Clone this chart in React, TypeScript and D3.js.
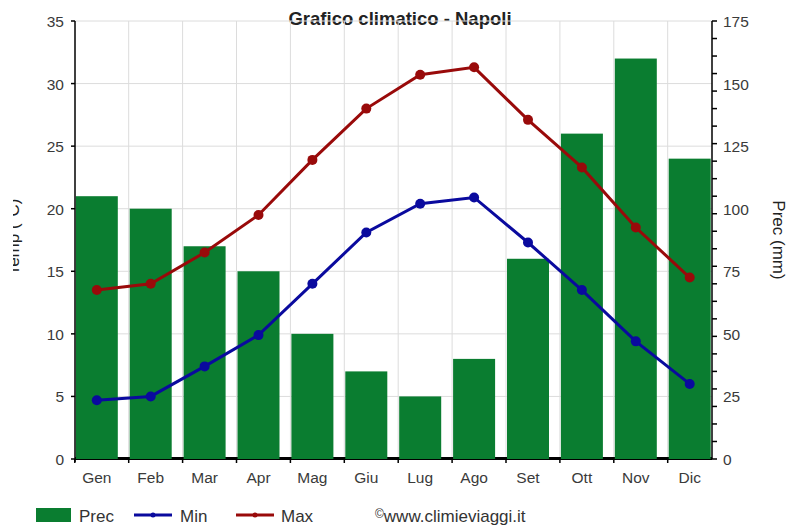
import React from "react";
import * as d3 from "d3";

const months = ["Gen","Feb","Mar","Apr","Mag","Giu","Lug","Ago","Set","Ott","Nov","Dic"];
const prec = [105, 100, 85, 75, 50, 35, 25, 40, 80, 130, 160, 120];
const tMin = [4.7, 5.0, 7.4, 9.9, 14.0, 18.1, 20.4, 20.9, 17.3, 13.5, 9.4, 6.0];
const tMax = [13.5, 14.0, 16.5, 19.5, 23.9, 28.0, 30.7, 31.3, 27.1, 23.3, 18.5, 14.5];
const leftTicks = [0, 5, 10, 15, 20, 25, 30, 35];
const rightLabels = [0, 25, 50, 75, 100, 125, 150, 175];
const rightMinor = d3.range(0, 176, 7);

const W = 792, H = 527;
const plotL = 75, plotR = 712, plotT = 21, plotB = 459;
const font = "'Liberation Sans', Arial, sans-serif";

export default function App() {
  const x = d3.scaleBand<string>().domain(months).range([74.8, 74.8 + 53.9 * 12]).paddingInner(0).paddingOuter(0);
  const yL = d3.scaleLinear().domain([0, 35]).range([plotB, plotT]);
  const yR = d3.scaleLinear().domain([0, 175]).range([plotB, plotT]);
  const barW = 42;
  const cx = (m: string) => (x(m) as number) + 1 + barW / 2;
  const minLine = d3.line<number>().x((_, i) => cx(months[i])).y(d => yL(d))(tMin) as string;
  const maxLine = d3.line<number>().x((_, i) => cx(months[i])).y(d => yL(d))(tMax) as string;
  const tickCol = "#3a3a3a";
  const fs = 15.5;
  return (
    <svg width={W} height={H} style={{ position: "absolute", left: 0, top: 0, background: "#fff" }} fontFamily={font}>
      <defs>
        <clipPath id="lclip"><rect x={13} y={0} width={100} height={H} /></clipPath>
        <clipPath id="pclip"><rect x={plotL} y={0} width={plotR - plotL} height={H} /></clipPath>
      </defs>
      <text x={400} y={25} textAnchor="middle" fontSize={18.5} fontWeight="bold" fill="#222">Grafico climatico - Napoli</text>
      {/* grid */}
      {leftTicks.map(t => (
        <line key={"h" + t} x1={plotL} x2={plotR} y1={yL(t)} y2={yL(t)} stroke="#dcdcdc" strokeWidth={1} />
      ))}
      {months.slice(1).map(m => (
        <line key={"v" + m} x1={x(m) as number} x2={x(m) as number} y1={plotT} y2={plotB} stroke="#dcdcdc" strokeWidth={1} />
      ))}
      {/* thick bottom axis */}
      <line x1={plotL} x2={plotR} y1={plotB - 0.5} y2={plotB - 0.5} stroke="#000" strokeWidth={3} />
      {/* bars */}
      <g clipPath="url(#pclip)">
        {months.map((m, i) => (
          <rect key={"b" + m} x={(x(m) as number) + 1} width={barW} y={yR(prec[i])} height={plotB - yR(prec[i])} fill="#0a7d30" />
        ))}
      </g>
      {/* lines */}
      <path d={minLine} fill="none" stroke="#0a0a9e" strokeWidth={3} />
      <path d={maxLine} fill="none" stroke="#990a0a" strokeWidth={3} />
      {tMin.map((v, i) => <circle key={"mn" + i} cx={cx(months[i])} cy={yL(v)} r={5} fill="#0a0a9e" />)}
      {tMax.map((v, i) => <circle key={"mx" + i} cx={cx(months[i])} cy={yL(v)} r={5} fill="#990a0a" />)}
      {/* left axis */}
      <line x1={plotL} x2={plotL} y1={plotT} y2={plotB + 3} stroke="#000" strokeWidth={1.5} />
      {leftTicks.map(t => (
        <g key={"lt" + t}>
          <line x1={plotL - 4} x2={plotL} y1={yL(t)} y2={yL(t)} stroke="#000" strokeWidth={1.5} />
          <text x={plotL - 11} y={yL(t) + 6} textAnchor="end" fontSize={fs} fill={tickCol}>{t}</text>
        </g>
      ))}
      {/* right axis */}
      <line x1={plotR} x2={plotR} y1={plotT} y2={plotB} stroke="#000" strokeWidth={1.5} />
      {rightMinor.map(t => (
        <line key={"rm" + t} x1={plotR} x2={plotR + 5} y1={yR(t)} y2={yR(t)} stroke="#000" strokeWidth={1.5} />
      ))}
      {rightLabels.map(t => (
        <text key={"rl" + t} x={plotR + 11} y={yR(t) + 6} textAnchor="start" fontSize={fs} fill={tickCol}>{t}</text>
      ))}
      {/* bottom ticks and labels */}
      {months.map(m => (
        <line key={"bt" + m} x1={x(m) as number} x2={x(m) as number} y1={plotB} y2={plotB + 4} stroke="#000" strokeWidth={1.5} />
      ))}
      {months.map(m => (
        <text key={"bl" + m} x={cx(m)} y={483} textAnchor="middle" fontSize={fs} fill={tickCol}>{m}</text>
      ))}
      {/* axis titles */}
      <g clipPath="url(#lclip)">
        <text transform={`translate(19,237) rotate(-90)`} textAnchor="middle" fontSize={17} fill="#222">Temp (°C)</text>
      </g>
      <text transform={`translate(773,240) rotate(90)`} textAnchor="middle" fontSize={17} fill="#222">Prec (mm)</text>
      {/* legend */}
      <rect x={36} y={508} width={35} height={14} fill="#0a7d30" />
      <text x={79} y={522} fontSize={17} fill="#333">Prec</text>
      <line x1={134} x2={172} y1={515} y2={515} stroke="#0a0a9e" strokeWidth={3} />
      <circle cx={153} cy={515} r={2.5} fill="#0a0a9e" />
      <text x={180} y={522} fontSize={17} fill="#333">Min</text>
      <line x1={236} x2={274} y1={515} y2={515} stroke="#990a0a" strokeWidth={3} />
      <circle cx={255} cy={515} r={2.5} fill="#990a0a" />
      <text x={281} y={522} fontSize={17} fill="#333">Max</text>
      <text x={375} y={522} fontSize={17} fill="#333"><tspan fontSize={12} dy={-4}>©</tspan><tspan dy={4}>www.climieviaggi.it</tspan></text>
    </svg>
  );
}
